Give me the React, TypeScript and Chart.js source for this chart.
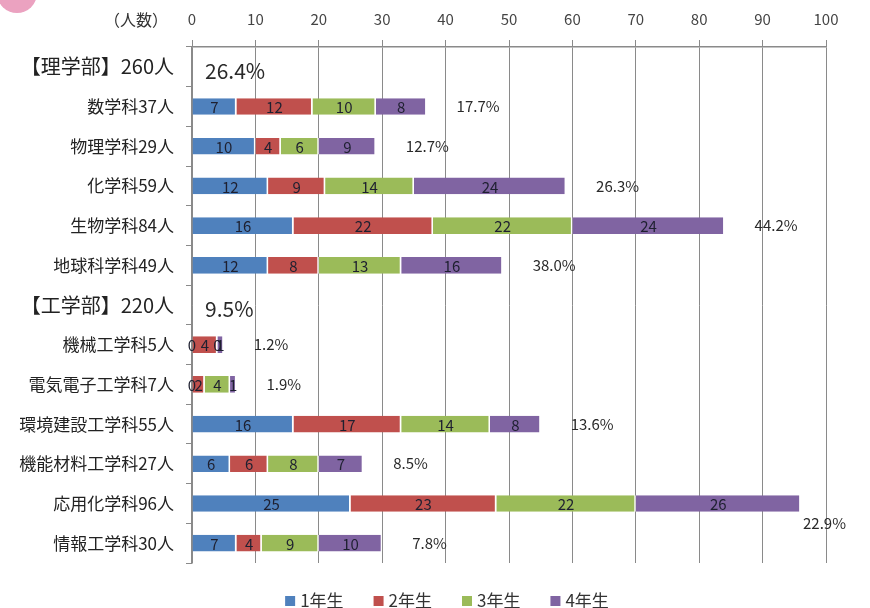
import React, { useEffect, useRef } from "react";
import { Chart, registerables } from "chart.js";

Chart.register(...registerables);

const categories = [
  "【理学部】260人",
  "数学科37人",
  "物理学科29人",
  "化学科59人",
  "生物学科84人",
  "地球科学科49人",
  "【工学部】220人",
  "機械工学科5人",
  "電気電子工学科7人",
  "環境建設工学科55人",
  "機能材料工学科27人",
  "応用化学科96人",
  "情報工学科30人",
];

const seriesNames = ["1年生", "2年生", "3年生", "4年生"];
const year1 = [null, 7, 10, 12, 16, 12, null, 0, 0, 16, 6, 25, 7];
const year2 = [null, 12, 4, 9, 22, 8, null, 4, 2, 17, 6, 23, 4];
const year3 = [null, 10, 6, 14, 22, 13, null, 0, 4, 14, 8, 22, 9];
const year4 = [null, 8, 9, 24, 24, 16, null, 1, 1, 8, 7, 26, 10];
const shares = ["26.4%", "17.7%", "12.7%", "26.3%", "44.2%", "38.0%", "9.5%", "1.2%", "1.9%", "13.6%", "8.5%", "22.9%", "7.8%"];
const xTicks = [0, 10, 20, 30, 40, 50, 60, 70, 80, 90, 100];
const axisTitle = "（人数）";

const colors = ["#4F81BD", "#C0504D", "#9BBB59", "#8064A2"];
const FONT = "'Noto Sans CJK JP', 'Noto Sans', sans-serif";

const isHeader = (i: number) =>
  [year1, year2, year3, year4].every((s) => s[i] === null);

const overlayPlugin = {
  id: "overlay",
  afterDatasetsDraw(chart: any) {
    const ctx = chart.ctx;
    const xs = chart.scales.x;
    const ys = chart.scales.y;
    ctx.save();
    // in-bar values
    ctx.font = `15px ${FONT}`;
    ctx.fillStyle = "#1e2030";
    ctx.textAlign = "center";
    ctx.textBaseline = "middle";
    chart.data.datasets.forEach((ds: any, di: number) => {
      const meta = chart.getDatasetMeta(di);
      meta.data.forEach((el: any, i: number) => {
        const v = ds.data[i];
        if (v === null || v === undefined) return;
        ctx.fillText(String(v), (el.x + el.base) / 2, el.y + 1);
      });
    });
    // share labels
    const W = chart.width;
    categories.forEach((_c, i) => {
      const y = ys.getPixelForValue(i);
      const label = shares[i];
      if (isHeader(i)) {
        ctx.font = `21px ${FONT}`;
        ctx.fillStyle = "#2a2a2a";
        ctx.textAlign = "left";
        ctx.fillText(label, chart.chartArea.left + 13, y + 4);
        return;
      }
      const total = [year1, year2, year3, year4].reduce((a, s) => a + (s[i] || 0), 0);
      const end = xs.getPixelForValue(total);
      ctx.font = `15px ${FONT}`;
      ctx.fillStyle = "#2a2a2a";
      const w = ctx.measureText(label).width;
      let tx = end + 30;
      let ty = y;
      if (tx + w > W - 10) {
        ctx.textAlign = "right";
        tx = W - 24;
        ty = y + 20;
      } else {
        ctx.textAlign = "left";
      }
      ctx.fillText(label, tx, ty);
    });
    ctx.restore();
  },
  afterDraw(chart: any) {
    const ctx = chart.ctx;
    const xs = chart.scales.x;
    ctx.save();
    // axis title
    ctx.font = `16px ${FONT}`;
    ctx.fillStyle = "#333";
    ctx.textAlign = "right";
    ctx.textBaseline = "middle";
    ctx.fillText(axisTitle, xs.left - 24, 20);
    // legend
    ctx.font = `17px ${FONT}`;
    const box = 10;
    const gapBox = 5;
    const gapItem = 30;
    const widths = seriesNames.map((n) => box + gapBox + ctx.measureText(n).width);
    const total = widths.reduce((a, b) => a + b, 0) + gapItem * (widths.length - 1);
    let x = 447 - total / 2;
    const ly = 601;
    ctx.textAlign = "left";
    seriesNames.forEach((n, i) => {
      ctx.fillStyle = colors[i];
      ctx.fillRect(x, ly - box / 2, box, box);
      ctx.fillStyle = "#333";
      ctx.fillText(n, x + box + gapBox, ly);
      x += widths[i] + gapItem;
    });
    // decorative circle
    ctx.fillStyle = "#EBA2C0";
    ctx.beginPath();
    ctx.arc(17, -7, 20, 0, Math.PI * 2);
    ctx.fill();
    ctx.restore();
  },
};

export default function App() {
  const ref = useRef<HTMLCanvasElement | null>(null);
  useEffect(() => {
    document.body.style.margin = "0";
    const c = ref.current;
    if (!c) return;
    const seriesData = [year1, year2, year3, year4];
    const chart = new Chart(c, {
      type: "bar",
      data: {
        labels: categories,
        datasets: seriesData.map((d, i) => ({
          label: seriesNames[i],
          data: d as any,
          backgroundColor: colors[i],
          borderColor: "#ffffff",
          borderWidth: { left: 0, right: 1.5, top: 0, bottom: 0 },
          borderSkipped: false,
          categoryPercentage: 1,
          barPercentage: 0.42,
        })),
      },
      options: {
        indexAxis: "y",
        responsive: false,
        animation: false,
        devicePixelRatio: 1,
        layout: { padding: { left: 0, top: 0, right: 44, bottom: 45 } },
        plugins: {
          legend: { display: false },
          tooltip: { enabled: false },
        },
        scales: {
          x: {
            type: "linear",
            position: "top",
            stacked: true,
            min: 0,
            max: 100,
            afterBuildTicks: (s: any) => {
              s.ticks = xTicks.map((v) => ({ value: v }));
            },
            afterFit: (s: any) => {
              s.height = 47;
            },
            ticks: {
              color: "#444",
              font: { family: FONT, size: 15 },
              padding: 12,
            },
            grid: {
              color: "#8a8a8a",
              lineWidth: 1,
              drawTicks: true,
              tickLength: 7,
            },
            border: { color: "#8a8a8a", width: 1.5 },
          },
          y: {
            type: "category",
            stacked: true,
            offset: true,
            afterFit: (s: any) => {
              s.width = 192;
            },
            ticks: {
              color: "#222",
              padding: 12,
              font: (ctx: any) => ({
                family: FONT,
                size: isHeader(ctx.index) ? 20 : 17,
              }),
            },
            grid: {
              offset: true,
              drawOnChartArea: false,
              drawTicks: true,
              tickLength: 6,
              color: "#8a8a8a",
            },
            border: { color: "#8a8a8a", width: 1.5 },
          },
        },
      } as any,
      plugins: [overlayPlugin],
    });
    return () => chart.destroy();
  }, []);
  return (
    <div style={{ width: 870, height: 608, background: "#fff" }}>
      <canvas ref={ref} width={870} height={608} style={{ display: "block" }} />
    </div>
  );
}
